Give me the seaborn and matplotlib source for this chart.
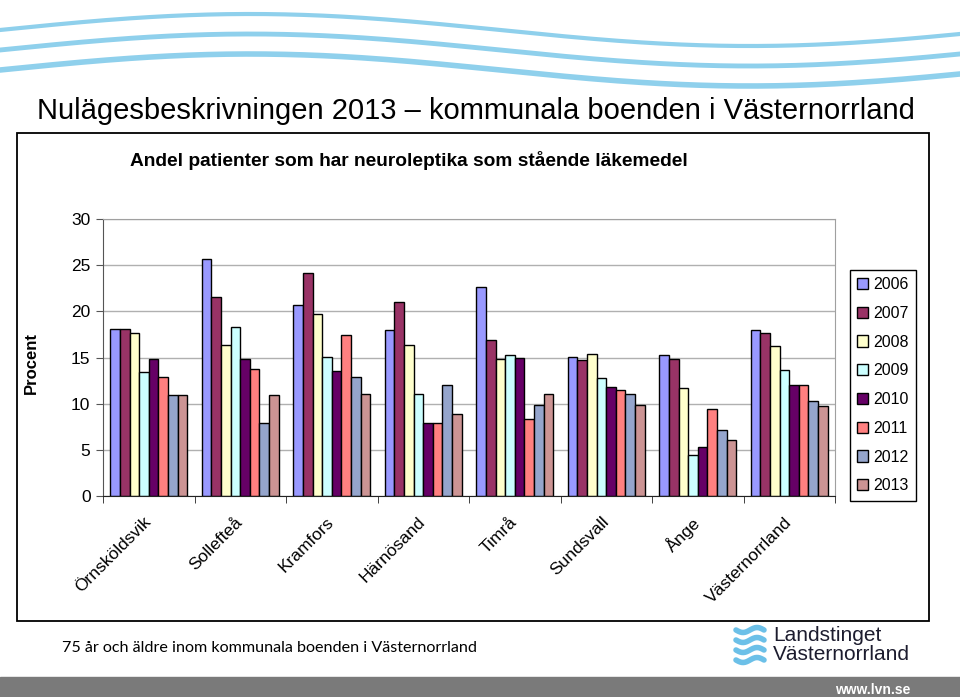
import numpy as np
import pandas as pd
import matplotlib
matplotlib.use("Agg")
import matplotlib.pyplot as plt
from matplotlib.patches import Rectangle
import seaborn as sns

# data
kommuner = ["Örnsköldsvik", "Sollefteå", "Kramfors", "Härnösand", "Timrå",
            "Sundsvall", "Ånge", "Västernorrland"]
years = ["2006", "2007", "2008", "2009", "2010", "2011", "2012", "2013"]
v2006 = [18.1, 25.7, 20.7, 18.0, 22.6, 15.1, 15.3, 18.0]
v2007 = [18.1, 21.5, 24.1, 21.0, 16.9, 14.7, 14.85, 17.7]
v2008 = [17.7, 16.4, 19.7, 16.4, 14.8, 15.4, 11.7, 16.2]
v2009 = [13.4, 18.3, 15.1, 11.0, 15.3, 12.8, 4.4, 13.7]
v2010 = [14.8, 14.8, 13.5, 7.9, 15.0, 11.8, 5.3, 12.0]
v2011 = [12.9, 13.8, 17.4, 7.9, 8.3, 11.5, 9.4, 12.0]
v2012 = [10.9, 7.9, 12.9, 12.0, 9.9, 11.0, 7.1, 10.3]
v2013 = [10.9, 10.9, 11.0, 8.9, 11.0, 9.9, 6.1, 9.8]

colors = ["#9999FF", "#993366", "#FFFFCC", "#CCFFFF", "#660066", "#FF8080",
          "#95A5CC", "#CC9494"]

series = [v2006, v2007, v2008, v2009, v2010, v2011, v2012, v2013]
df = pd.DataFrame({
    "Kommun": kommuner * len(years),
    "År": np.repeat(years, len(kommuner)),
    "Procent": np.concatenate(series),
})

sns.set_style("white")
plt.rcParams["font.family"] = ["Liberation Sans", "DejaVu Sans"]
plt.rcParams["text.color"] = "black"
plt.rcParams["xtick.color"] = "black"
plt.rcParams["ytick.color"] = "black"

W, H = 960, 697
fig = plt.figure(figsize=(9.6, 6.97), dpi=100)

# decorative waves at the top
deco = fig.add_axes([0, 0, 1, 1], zorder=-1)
deco.set_xlim(0, W)
deco.set_ylim(H, 0)
deco.axis("off")
xx = np.linspace(0, W, 200)
for base, lw in [(30, 3), (50, 3.5), (70, 4)]:
    deco.plot(xx, base - 16 * np.sin(2 * np.pi * xx / 1000), color="#8fd0ec", lw=lw)

# outer chart frame
fig.patches.append(Rectangle((17 / W, 1 - 621 / H), 912 / W, 488 / H, fill=False,
                             edgecolor="black", lw=1.3, transform=fig.transFigure))
# grey band at bottom
fig.patches.append(Rectangle((0, 0), 1, 20 / H, color="#7a7a7a", transform=fig.transFigure))

ax = fig.add_axes([103 / W, 1 - 496 / H, 732 / W, 277 / H])
sns.barplot(data=df, x="Kommun", y="Procent", hue="År", palette=colors,
            width=0.84, edgecolor="black", linewidth=1, saturation=1, ax=ax)

ax.set_ylim(0, 30)
ax.set_yticks(range(0, 31, 5))
ax.set_xlim(-0.5, len(kommuner) - 0.5)
ax.yaxis.grid(True, color="#b0b0b0", lw=1)
ax.set_axisbelow(True)
ax.set_xlabel("")
ax.set_ylabel("")
for s in ["top", "right"]:
    ax.spines[s].set_color("#a0a0a0")
ax.spines["left"].set_color("#555555")
ax.spines["bottom"].set_color("#222222")
ax.tick_params(axis="y", direction="out", length=5, labelsize=12.5, pad=4, color="#555555", left=True)
ax.set_xticks(np.arange(-0.5, len(kommuner), 1), minor=True)
ax.tick_params(axis="x", which="minor", direction="out", length=5, color="#222222", bottom=True)
ax.tick_params(axis="x", which="major", length=0, pad=17)
ax.set_xticks(range(len(kommuner)))
ax.set_xticklabels(kommuner, rotation=45, ha="right", va="center",
                   rotation_mode="anchor", fontsize=12.5)

leg = ax.legend(loc="upper left", bbox_to_anchor=(850 / W, 1 - 270 / H),
                bbox_transform=fig.transFigure, borderaxespad=0, fancybox=False,
                edgecolor="black", framealpha=1, fontsize=11.5, handlelength=0.7,
                handleheight=0.7, handletextpad=0.3, labelspacing=0.86,
                borderpad=0.45, title=None)
leg.get_frame().set_linewidth(1)

fig.text(37 / W, 1 - 111 / H, "Nulägesbeskrivningen 2013 \u2013 kommunala boenden i Västernorrland",
         family=["Liberation Sans Narrow", "Liberation Sans"], fontsize=21,
         ha="left", va="center")
fig.text(130 / W, 1 - 160 / H, "Andel patienter som har neuroleptika som stående läkemedel",
         fontsize=13.8, fontweight="bold", ha="left", va="center")
fig.text(31 / W, 1 - 363 / H, "Procent", rotation=90, fontsize=12, fontweight="bold",
         ha="center", va="center")
fig.text(62 / W, 1 - 648 / H, "75 år och äldre inom kommunala boenden i Västernorrland",
         family=["Lato", "DejaVu Sans"], fontsize=11.6, ha="left", va="center")

# logo
fig.text(773 / W, 1 - 645 / H, "Landstinget\nVästernorrland", fontsize=15,
         color="#1c1c2e", ha="left", va="center", linespacing=0.95)
xs = np.linspace(736, 764, 20)
for yb in [630, 640, 650, 660]:
    deco.plot(xs, yb + 2.5 * np.sin((xs - 736) / 28 * 2 * np.pi), color="#6cc0e8", lw=4)
fig.text(910 / W, 1 - 690 / H, "www.lvn.se", fontsize=10, fontweight="bold",
         color="white", ha="right", va="center")

fig.savefig("out.png", dpi=100)
